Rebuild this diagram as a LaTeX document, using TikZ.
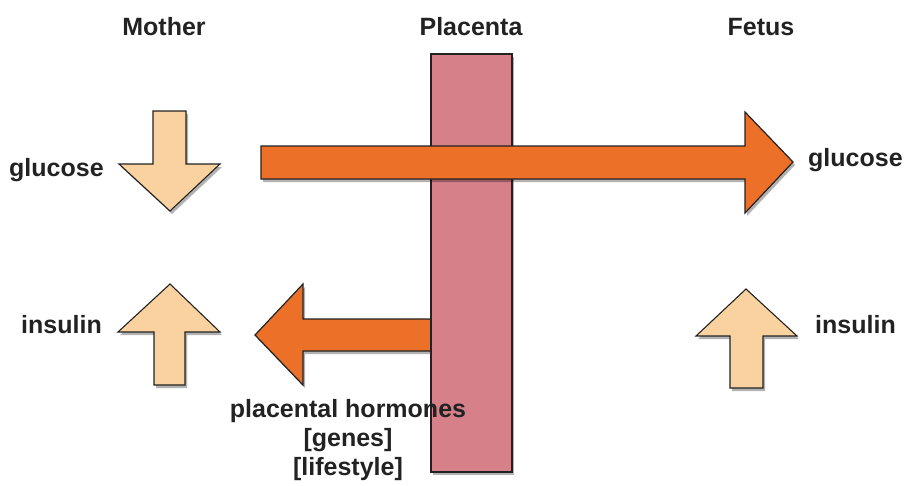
\documentclass[tikz,border=0pt]{standalone}
\usepackage{fontspec}
\setmainfont{Liberation Sans}
\usetikzlibrary{shadows}
\definecolor{plac}{HTML}{D6808A}
\definecolor{orng}{HTML}{EC7028}
\definecolor{pale}{HTML}{F9D2A0}
\definecolor{ink}{HTML}{222222}
\begin{document}
\begin{tikzpicture}[x=1pt,y=-1pt,
  shad/.style={drop shadow={shadow xshift=2pt,shadow yshift=-3pt,opacity=0.3,fill=black}},
  bigarrow/.style={fill=orng,draw=ink,line width=1.2pt,line join=miter,shad},
  smallarrow/.style={fill=pale,draw=ink,line width=1.1pt,line join=miter,shad},
  lbl/.style={font=\fontsize{25}{29}\selectfont\bfseries,text=ink,inner sep=0pt,align=center}]
\useasboundingbox (0,0) rectangle (905,485);
% headings
\node[lbl] (mother) at (164,27) {Mother};
\node[lbl] (placenta) at (471,27) {Placenta};
\node[lbl] (fetus) at (761,27) {Fetus};
% side labels
\node[lbl,anchor=west] (mglu) at (9,170) {glucose};
\node[lbl,anchor=west] (fglu) at (808,160) {glucose};
\node[lbl,anchor=west] (mins) at (21,325) {insulin};
\node[lbl,anchor=west] (fins) at (815,325) {insulin};
% left arrow (placental hormones)
\draw[bigarrow] (431,319) -- (303,319) -- (303,284) -- (255,335) -- (303,385) -- (303,351) -- (431,351) -- cycle;
% placenta
\draw[fill=plac,draw=ink,line width=1.1pt,shad] (431,54) rectangle (512,472);
% right arrow (glucose)
\draw[bigarrow] (261,146) -- (745,146) -- (745,112) -- (793,162) -- (745,213) -- (745,179) -- (261,179) -- cycle;
% mother glucose down arrow
\draw[smallarrow] (153,111) -- (186,111) -- (186,164) -- (220,164) -- (170,211) -- (119,164) -- (153,164) -- cycle;
% mother insulin up arrow
\draw[smallarrow] (154,385) -- (185,385) -- (185,332) -- (220,332) -- (170,284) -- (118,332) -- (154,332) -- cycle;
% fetus insulin up arrow
\draw[smallarrow] (730,388) -- (763,388) -- (763,336) -- (797,336) -- (746,289) -- (696,336) -- (730,336) -- cycle;
% hormones label
\node[lbl] (horm) at (348,440) {placental hormones\\[0pt] [genes]\\[0pt] [lifestyle]};
\end{tikzpicture}
\end{document}
